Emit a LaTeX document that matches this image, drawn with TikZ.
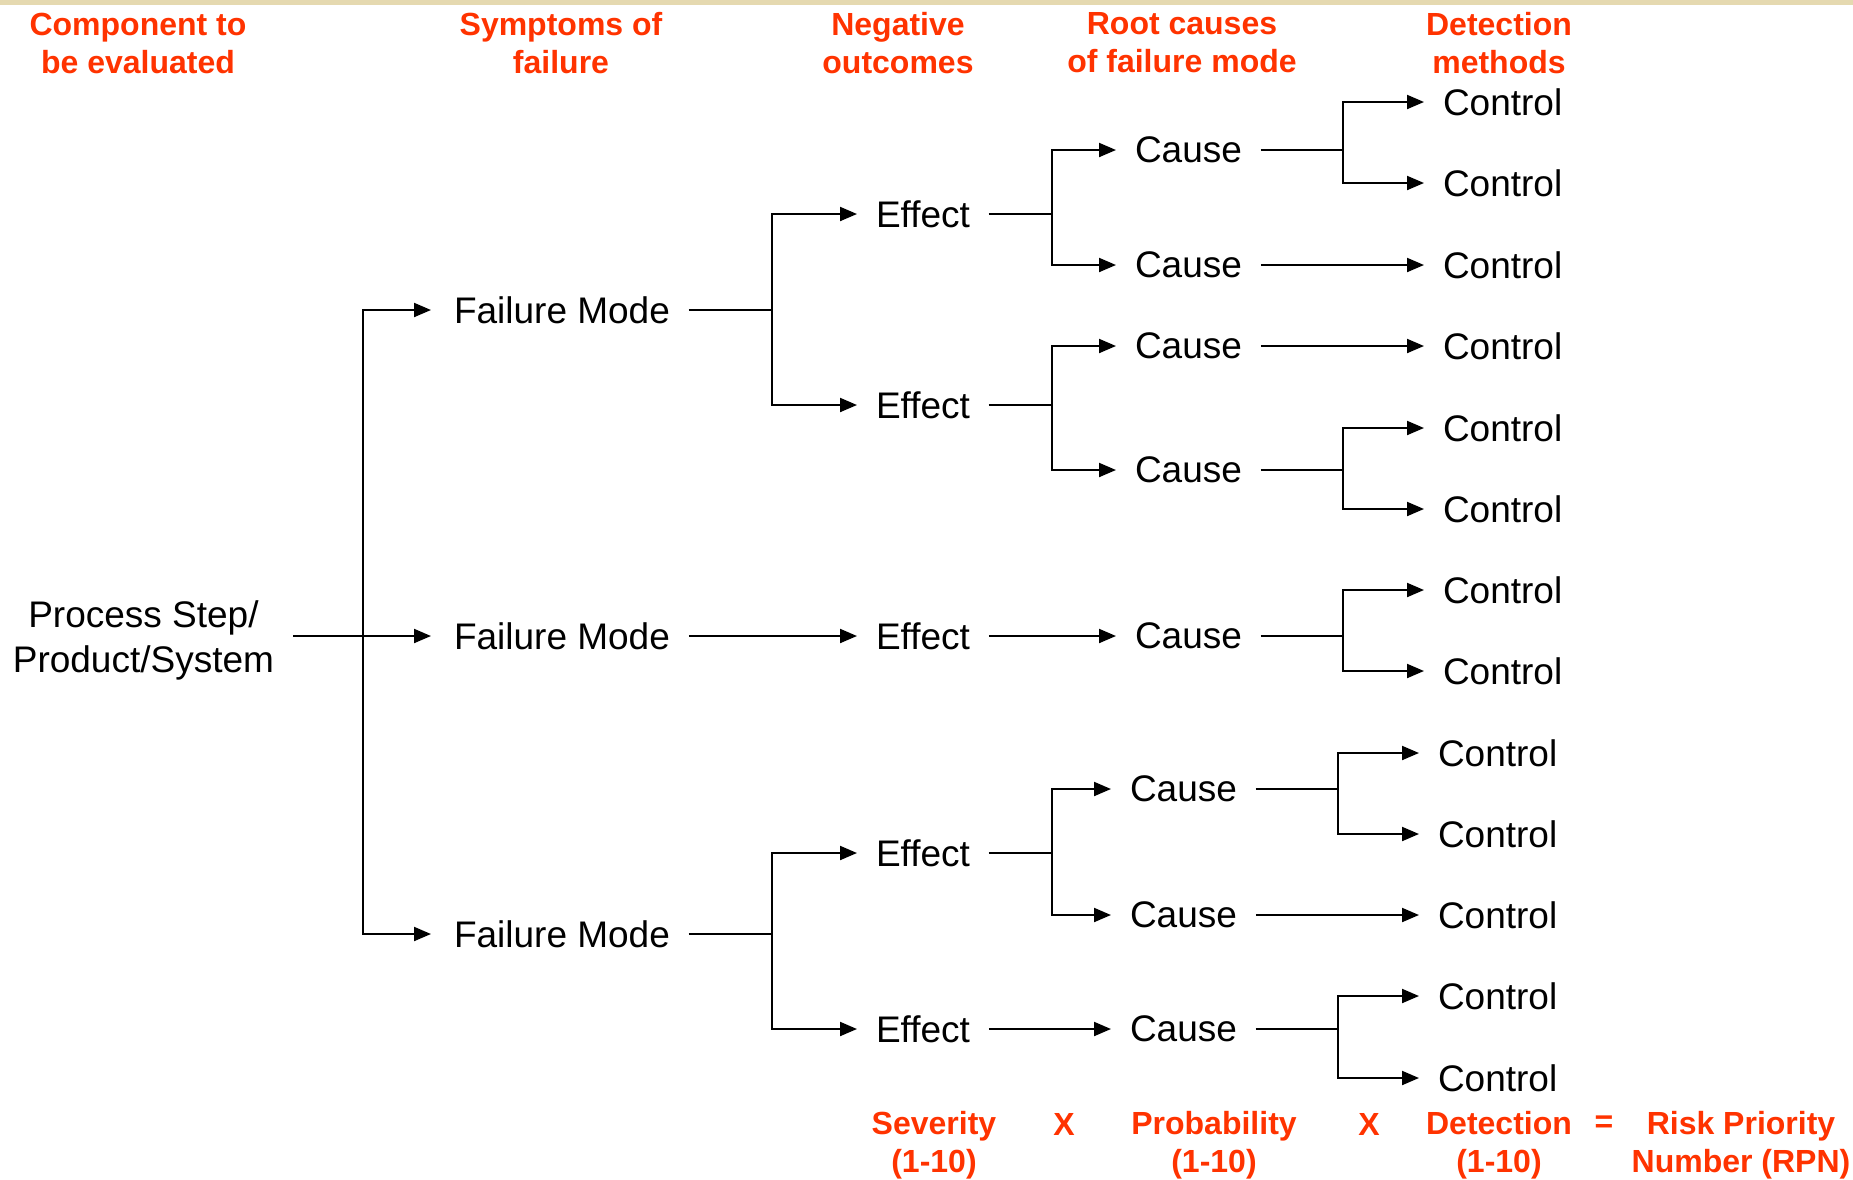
\documentclass[tikz,border=0pt]{standalone}
\usepackage{fontspec}
\setmainfont{Liberation Sans}
\usetikzlibrary{arrows.meta}
\definecolor{hdred}{RGB}{255,51,0}
\definecolor{topbar}{RGB}{229,217,176}

\begin{document}
\begin{tikzpicture}[x=0.5pt,y=-0.5pt,>={Triangle[length=8.5pt,width=7pt]},line width=1pt,
    item/.style={font=\fontsize{18.5}{22.5}\selectfont,inner xsep=9pt,inner ysep=0pt,anchor=west},
    head/.style={font=\fontsize{16}{19}\selectfont\bfseries,text=hdred,align=center,inner sep=0pt}]
    \useasboundingbox (0,0) rectangle (1853,1179);
    \fill[topbar] (0,0) rectangle (1853,5);

    \node[head] (hcomp) at (138,43) {Component to\\be evaluated};
    \node[head] (hsym)  at (561,43) {Symptoms of\\failure};
    \node[head] (hneg)  at (898,43) {Negative\\outcomes};
    \node[head] (hroot) at (1182,43) {Root causes\\of failure mode};
    \node[head] (hdet)  at (1499,43) {Detection\\methods};

    \node[item,anchor=east,align=center] (pr) at (293,640) {Process Step/\\Product/System};

    \node[item] (fm1) at (435,310) {Failure Mode};
    \node[item] (fm2) at (435,636) {Failure Mode};
    \node[item] (fm3) at (435,934) {Failure Mode};

    \node[item] (ef1) at (857,214) {Effect};
    \node[item] (ef2) at (857,405) {Effect};
    \node[item] (ef3) at (857,636) {Effect};
    \node[item] (ef4) at (857,853) {Effect};
    \node[item] (ef5) at (857,1029) {Effect};

    \node[item] (ca1) at (1116,150) {Cause};
    \node[item] (ca2) at (1116,265) {Cause};
    \node[item] (ca3) at (1116,346) {Cause};
    \node[item] (ca4) at (1116,470) {Cause};
    \node[item] (ca5) at (1116,636) {Cause};
    \node[item] (ca6) at (1111,789) {Cause};
    \node[item] (ca7) at (1111,915) {Cause};
    \node[item] (ca8) at (1111,1029) {Cause};

    \foreach \n/\y in {1/102,2/183,3/265,4/346,5/428,6/509,7/590,8/671}
        \node[item] (co\n) at (1424,\y) {Control};
    \foreach \n/\y in {9/753,10/834,11/915,12/996,13/1078}
        \node[item] (co\n) at (1419,\y) {Control};

    \coordinate (k0) at (363,0);
    \coordinate (k1) at (772,0);
    \coordinate (k2) at (1052,0);
    \coordinate (k3) at (1343,0);
    \coordinate (k4) at (1338,0);

    \foreach \t in {fm1,fm2,fm3}
        \draw[->,shorten >=2pt] (pr.east |- fm2) -- (fm2 -| k0) |- (\t.west);
    \foreach \s/\t/\k in {fm1/ef1/k1,fm1/ef2/k1,fm2/ef3/k1,fm3/ef4/k1,fm3/ef5/k1,
            ef1/ca1/k2,ef1/ca2/k2,ef2/ca3/k2,ef2/ca4/k2,ef3/ca5/k2,ef4/ca6/k2,ef4/ca7/k2,ef5/ca8/k2,
            ca1/co1/k3,ca1/co2/k3,ca2/co3/k3,ca3/co4/k3,ca4/co5/k3,ca4/co6/k3,ca5/co7/k3,ca5/co8/k3,
            ca6/co9/k4,ca6/co10/k4,ca7/co11/k4,ca8/co12/k4,ca8/co13/k4}
        \draw[->] (\s.east) -- (\s.east -| \k) |- (\t.west);

    \node[head] (sev)  at (934,1145) {Severity\\(1-10)};
    \node[head] (x1)   at (1064,1124) {X};
    \node[head] (prob) at (1214,1145) {Probability\\(1-10)};
    \node[head] (x2)   at (1369,1124) {X};
    \node[head] (dtc)  at (1499,1145) {Detection\\(1-10)};
    \node[head] (eq)   at (1604,1124) {=};
    \node[head] (rpn)  at (1741,1145) {Risk Priority\\Number (RPN)};
\end{tikzpicture}
\end{document}
